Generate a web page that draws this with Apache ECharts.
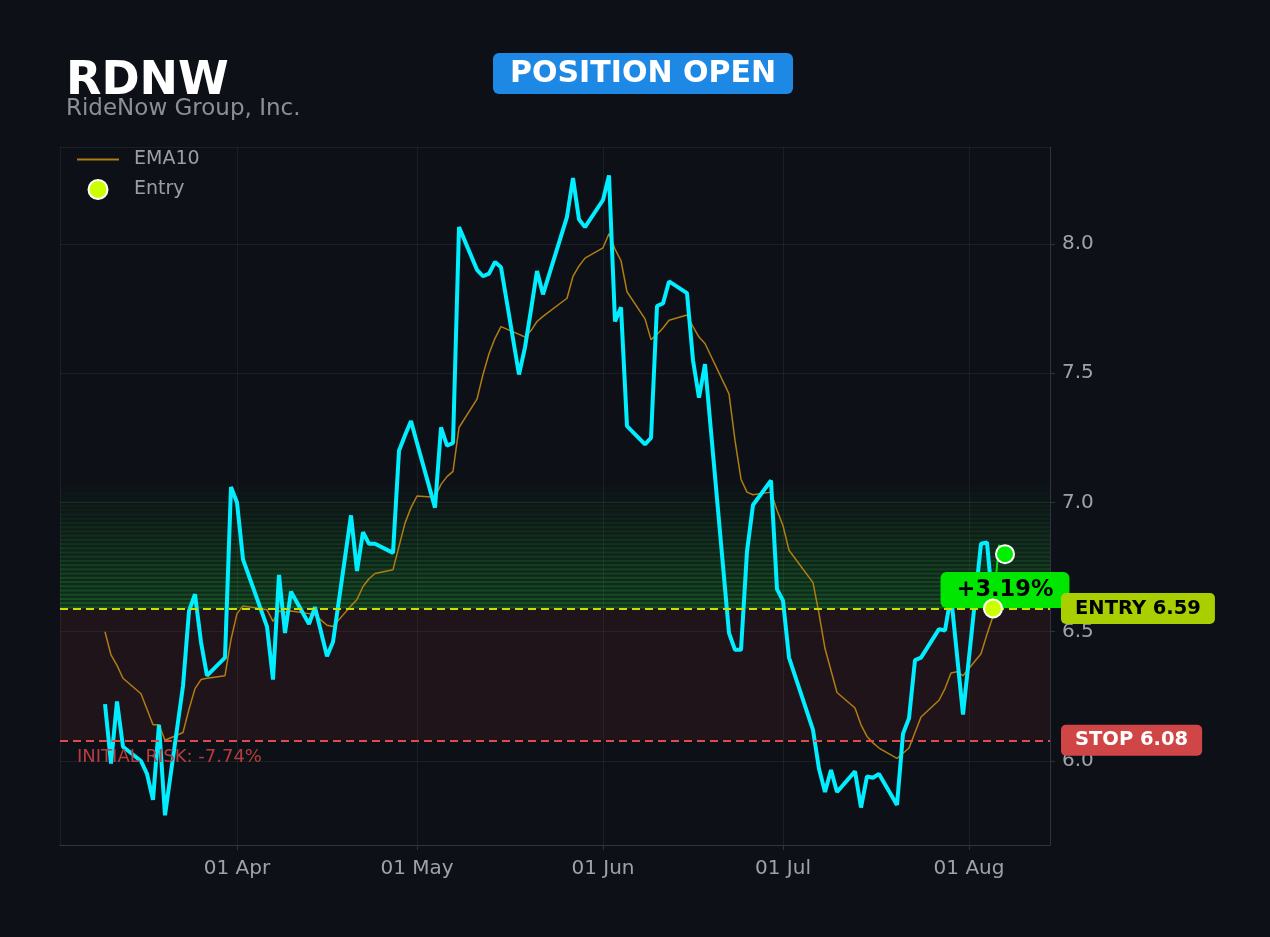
<!DOCTYPE html>
<html>
<head>
<meta charset="utf-8">
<title>RDNW</title>
<script src="https://cdn.jsdelivr.net/npm/echarts@6/dist/echarts.min.js"></script>
<style>
    html, body { margin: 0; padding: 0; background: #0d1117; }
    #chart { width: 1270px; height: 937px; }
</style>
</head>
<body>
<div id="chart"></div>
<script>
var dates = [
    '2026-03-10', '2026-03-11', '2026-03-12', '2026-03-13', '2026-03-16', '2026-03-17', '2026-03-18', '2026-03-19', '2026-03-20',
    '2026-03-23', '2026-03-24', '2026-03-25', '2026-03-26', '2026-03-27', '2026-03-30', '2026-03-31',
    '2026-04-01', '2026-04-02', '2026-04-06', '2026-04-07', '2026-04-08', '2026-04-09', '2026-04-10',
    '2026-04-13', '2026-04-14', '2026-04-15', '2026-04-16', '2026-04-17', '2026-04-20', '2026-04-21', '2026-04-22',
    '2026-04-23', '2026-04-24', '2026-04-27', '2026-04-28', '2026-04-29', '2026-04-30',
    '2026-05-01', '2026-05-04', '2026-05-05', '2026-05-06', '2026-05-07', '2026-05-08', '2026-05-11', '2026-05-12',
    '2026-05-13', '2026-05-14', '2026-05-15', '2026-05-18', '2026-05-19', '2026-05-20', '2026-05-21', '2026-05-22',
    '2026-05-26', '2026-05-27', '2026-05-28', '2026-05-29',
    '2026-06-01', '2026-06-02', '2026-06-03', '2026-06-04', '2026-06-05', '2026-06-08', '2026-06-09', '2026-06-10',
    '2026-06-11', '2026-06-12', '2026-06-15', '2026-06-16', '2026-06-17', '2026-06-18', '2026-06-22', '2026-06-23',
    '2026-06-24', '2026-06-25', '2026-06-26', '2026-06-29', '2026-06-30',
    '2026-07-01', '2026-07-02', '2026-07-06', '2026-07-07', '2026-07-08', '2026-07-09', '2026-07-10', '2026-07-13',
    '2026-07-14', '2026-07-15', '2026-07-16', '2026-07-17', '2026-07-20', '2026-07-21', '2026-07-22', '2026-07-23',
    '2026-07-24', '2026-07-27', '2026-07-28', '2026-07-29', '2026-07-30', '2026-07-31',
    '2026-08-03', '2026-08-04', '2026-08-05', '2026-08-06', '2026-08-07'
];
var close = [
    6.22, 5.99, 6.23, 6.055, 6.00, 5.95, 5.85, 6.14, 5.79, 6.29, 6.58, 6.645, 6.46, 6.33, 6.40, 7.06,
    7.00, 6.78, 6.52, 6.315, 6.72, 6.495, 6.655, 6.53, 6.595, 6.50, 6.405, 6.46, 6.95, 6.735, 6.885, 6.84, 6.84, 6.805, 7.20, 7.26, 7.315,
    7.23, 6.98, 7.29, 7.22, 7.23, 8.065, 7.90, 7.875, 7.885, 7.93, 7.91, 7.495, 7.60, 7.745, 7.895, 7.805, 8.105, 8.255, 8.095, 8.065,
    8.17, 8.265, 7.70, 7.755, 7.295, 7.225, 7.25, 7.76, 7.77, 7.855, 7.81, 7.55, 7.405, 7.535, 6.495, 6.43, 6.43, 6.81, 6.99, 7.085, 6.665,
    6.62, 6.40, 6.12, 5.97, 5.88, 5.965, 5.88, 5.96, 5.82, 5.94, 5.935, 5.95, 5.83, 6.105, 6.165, 6.39, 6.40, 6.51, 6.505, 6.64, 6.41, 6.18,
    6.84, 6.845, 6.59, 6.835, 6.80
];
var ema10 = [
    6.50, 6.41, 6.37, 6.32, 6.26, 6.20, 6.14, 6.14, 6.08, 6.11, 6.20, 6.28, 6.315, 6.32, 6.33, 6.47,
    6.57, 6.60, 6.585, 6.54, 6.58, 6.575, 6.58, 6.57, 6.565, 6.545, 6.525, 6.52, 6.60, 6.625, 6.675, 6.705, 6.725, 6.74, 6.83, 6.92, 6.98,
    7.025, 7.02, 7.07, 7.10, 7.12, 7.29, 7.40, 7.495, 7.575, 7.635, 7.68, 7.65, 7.64, 7.665, 7.70, 7.72, 7.79, 7.875, 7.915, 7.945,
    7.985, 8.04, 7.98, 7.935, 7.815, 7.71, 7.63, 7.65, 7.675, 7.705, 7.725, 7.68, 7.64, 7.615, 7.42, 7.24, 7.09, 7.04, 7.03, 7.04, 6.97,
    6.91, 6.815, 6.69, 6.57, 6.435, 6.35, 6.265, 6.205, 6.14, 6.095, 6.07, 6.05, 6.01, 6.03, 6.05, 6.11, 6.17, 6.235, 6.28, 6.34, 6.345, 6.33,
    6.415, 6.49, 6.56, 6.61, 6.645
];
var ticker = 'RDNW';
var company = 'RideNow Group, Inc.';
var entryDate = '2026-08-05';
var entryPrice = 6.59;
var stopPrice = 6.08;
var targetZoneTop = 7.08;

var font = 'DejaVu Sans';
var entryIdx = dates.indexOf(entryDate);
var lastIdx = dates.length - 1;
var lastPrice = close[lastIdx];
var pnl = (lastPrice / entryPrice - 1) * 100;
var risk = (stopPrice / entryPrice - 1) * 100;

function pairs(from, to) {
    var out = [];
    for (var i = from; i <= to; i++) out.push([dates[i], close[i]]);
    return out;
}

// striped green glow above the entry line
var zoneAreas = [
    [{ yAxis: stopPrice, itemStyle: { color: 'rgba(220,50,60,0.09)' } }, { yAxis: entryPrice }],
    [{
        yAxis: entryPrice,
        itemStyle: {
            color: {
                type: 'linear', x: 0, y: 0, x2: 0, y2: 1,
                colorStops: [{ offset: 0, color: 'rgba(30,170,50,0)' }, { offset: 1, color: 'rgba(30,170,50,0.2)' }]
            }
        }
    }, { yAxis: targetZoneTop }]
];
var stripes = 30;
var step = (targetZoneTop - entryPrice) / stripes;
for (var s = 0; s < stripes; s++) {
    var lo = entryPrice + s * step;
    zoneAreas.push([
        { yAxis: lo, itemStyle: { color: 'rgba(45,200,65,' + (0.22 * (1 - s / stripes)).toFixed(3) + ')' } },
        { yAxis: lo + step * 0.5 }
    ]);
}

var chart = echarts.init(document.getElementById('chart'));
chart.setOption({
    backgroundColor: '#0d1117',
    animation: false,
    textStyle: { fontFamily: font },
    title: [{
        text: ticker, left: 66, top: 59, padding: 0,
        textStyle: { color: '#ffffff', fontSize: 46, fontWeight: 'bold', fontFamily: font }
    }, {
        text: company, left: 66, top: 98, padding: 0,
        textStyle: { color: '#8b8f97', fontSize: 23, fontWeight: 'normal', fontFamily: font }
    }, {
        text: 'POSITION OPEN', left: 493, top: 53, padding: [6, 17, 5, 17],
        backgroundColor: '#1e88e5', borderRadius: 6,
        textStyle: { color: '#ffffff', fontSize: 30, fontWeight: 'bold', fontFamily: font }
    }],
    legend: {
        data: [
            { name: 'EMA10', icon: 'path://M0,0L42,0L42,2L0,2Z' },
            { name: 'Entry' }
        ],
        orient: 'vertical',
        left: 72, top: 145,
        itemWidth: 42, itemHeight: 19, itemGap: 10,
        textStyle: { color: '#9a9ea5', fontSize: 19, fontFamily: font, padding: [0, 0, 0, 10] }
    },
    grid: { left: 60, right: 220, top: 147, bottom: 92 },
    xAxis: {
        type: 'time',
        min: '2026-03-02 12:00:00',
        max: '2026-08-14 12:00:00',
        splitNumber: 5,
        axisLine: { show: true, lineStyle: { color: '#30353d' } },
        axisTick: { show: true, length: 5, lineStyle: { color: '#30353d' } },
        axisLabel: { color: '#9ea3aa', fontSize: 20, margin: 14, formatter: '{dd} {MMM}', fontFamily: font },
        splitLine: { show: true, lineStyle: { color: 'rgba(255,255,255,0.06)' } }
    },
    yAxis: {
        type: 'value',
        position: 'right',
        min: 5.675,
        max: 8.375,
        splitNumber: 5,
        axisLine: { show: true, lineStyle: { color: '#30353d' } },
        axisTick: { show: true, length: 5, lineStyle: { color: '#30353d' } },
        axisLabel: {
            color: '#9ea3aa', fontSize: 20, margin: 12, fontFamily: font,
            padding: [4, 0, 0, 0],
            showMinLabel: false, showMaxLabel: false,
            formatter: function (v) { return v.toFixed(1); }
        },
        splitLine: { show: true, lineStyle: { color: 'rgba(255,255,255,0.06)' } }
    },
    series: [{
        name: 'zones',
        type: 'line',
        data: [],
        z: 1,
        silent: true,
        markArea: { silent: true, data: zoneAreas },
        markLine: {
            silent: true,
            symbol: 'none',
            data: [{
                yAxis: entryPrice,
                lineStyle: { color: '#c6e000', width: 2, type: [8, 5] },
                label: {
                    show: true, position: 'end', distance: 11,
                    formatter: 'ENTRY ' + entryPrice.toFixed(2),
                    color: '#000000', fontSize: 19.5, fontWeight: 'bold', fontFamily: font,
                    backgroundColor: '#aacf00', borderRadius: 5, padding: [6, 14, 5, 14]
                }
            }, {
                yAxis: stopPrice,
                lineStyle: { color: '#e04a4a', width: 2, type: [8, 5] },
                label: {
                    show: true, position: 'end', distance: 11,
                    formatter: 'STOP ' + stopPrice.toFixed(2),
                    color: '#ffffff', fontSize: 19.5, fontWeight: 'bold', fontFamily: font,
                    backgroundColor: '#d04545', borderRadius: 5, padding: [6, 14, 5, 14]
                }
            }, {
                yAxis: stopPrice,
                lineStyle: { width: 0, color: 'rgba(0,0,0,0)' },
                label: {
                    show: true, position: 'insideStartBottom', distance: [17, 8],
                    formatter: 'INITIAL RISK: ' + risk.toFixed(2) + '%',
                    color: '#b83c3e', fontSize: 18, fontFamily: font
                }
            }]
        }
    }, {
        name: 'EMA10',
        type: 'line',
        data: dates.map(function (d, i) { return [d, ema10[i]]; }),
        symbol: 'none',
        z: 2,
        lineStyle: { color: '#b07d12', width: 1.5 },
        itemStyle: { color: '#b07d12' }
    }, {
        name: 'Price',
        type: 'line',
        data: pairs(0, entryIdx),
        symbol: 'none',
        z: 3,
        lineStyle: { color: '#00eeff', width: 4 }
    }, {
        name: 'Since entry',
        type: 'line',
        data: pairs(entryIdx, lastIdx),
        symbol: 'none',
        z: 3,
        lineStyle: { color: '#00e600', width: 2 }
    }, {
        name: 'P&L',
        type: 'scatter',
        data: [[dates[lastIdx], entryPrice]],
        symbolSize: 1,
        z: 4,
        silent: true,
        itemStyle: { color: 'rgba(0,0,0,0)', opacity: 1 },
        label: {
            show: true, position: 'top', distance: 0,
            formatter: (pnl >= 0 ? '+' : '') + pnl.toFixed(2) + '%',
            color: '#000000', fontSize: 22.5, fontWeight: 'bold', fontFamily: font,
            backgroundColor: '#00e600', borderRadius: 6, padding: [7, 16, 6, 16]
        }
    }, {
        name: 'Entry',
        type: 'scatter',
        data: [[entryDate, entryPrice]],
        symbolSize: 18,
        z: 5,
        itemStyle: { color: '#ccff00', borderColor: '#ffffff', borderWidth: 2, opacity: 1 }
    }, {
        name: 'Last',
        type: 'scatter',
        data: [[dates[lastIdx], lastPrice]],
        symbolSize: 18,
        z: 5,
        itemStyle: { color: '#00ee00', borderColor: '#ffffff', borderWidth: 2, opacity: 1 }
    }]
});
</script>
</body>
</html>
